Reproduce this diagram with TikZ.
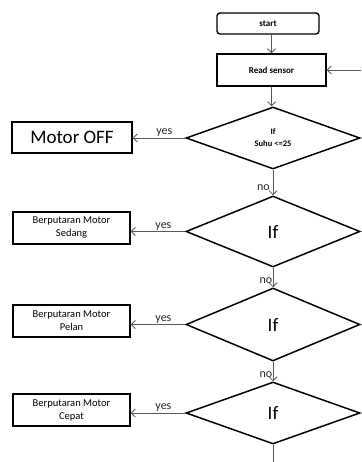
\documentclass[tikz,border=0pt]{standalone}
\usepackage{fontspec}
\setmainfont{Carlito}
\usetikzlibrary{shapes.geometric,arrows.meta}
\begin{document}
\begin{tikzpicture}[x=1pt,y=-1pt,
  box/.style={draw, line width=1.4pt, inner sep=0pt, align=center},
  smalltxt/.style={font=\fontsize{10.5}{13}\selectfont},
  dia/.style={diamond, draw, line width=1.5pt, inner sep=0pt, minimum width=174pt, align=center},
  arr/.style={draw=black!65, line width=0.7pt, -{Straight Barb[length=4pt,width=8pt,line width=0.8pt]}},
  plain/.style={draw=black!65, line width=0.7pt},
  lbl/.style={font=\fontsize{12}{14}\selectfont, inner sep=1pt, text=black!85}]
\useasboundingbox (0,0) rectangle (361,462);
% top nodes
\node[box, rounded corners=3pt, minimum width=102pt, minimum height=21pt, font=\bfseries\fontsize{9}{11}\selectfont] (start) at (268,23.5) {start};
\node[box, minimum width=109pt, minimum height=32pt, font=\bfseries\fontsize{9}{11}\selectfont] (read) at (271.5,70) {Read sensor};
\coordinate (inR) at (361,70);
% decisions
\node[dia, minimum height=62pt, font=\bfseries\fontsize{8.5}{12}\selectfont] (d1) at (273,138) {If\\Suhu <=25};
\node[dia, minimum height=71pt, font=\fontsize{19}{22}\selectfont] (d2) at (273,231.5) {If};
\node[dia, minimum height=73pt, font=\fontsize{19}{22}\selectfont] (d3) at (273,324.5) {If};
\node[dia, minimum height=62pt, font=\fontsize{19}{22}\selectfont] (d4) at (273,413) {If};
\coordinate (bot) at (273,462);
% action boxes
\node[box, minimum width=120pt, minimum height=31pt, font=\fontsize{19}{22}\selectfont] (off) at (72,137.5) {Motor OFF};
\node[box, smalltxt, minimum width=117pt, minimum height=32pt] (b2) at (71.5,228) {Berputaran Motor\\Sedang};
\node[box, smalltxt, minimum width=117pt, minimum height=32pt] (b3) at (71.5,321) {Berputaran Motor\\Pelan};
\node[box, smalltxt, minimum width=117pt, minimum height=32pt] (b4) at (71.5,410) {Berputaran Motor\\Cepat};
% connectors
\draw[arr] (read.north |- start.south) -- (read.north);
\draw[arr] (inR) -- (read.east);
\draw[arr] (read.south) -- (read.south |- d1.north);
\draw[arr] (d1.west) -- node[lbl, above, pos=0.4] {yes} (d1.west -| off.east);
\draw[arr] (d1.south) -- node[lbl, left, pos=0.7, xshift=-2pt] {no} (d2.north);
\draw[arr] (d2.west) -- node[lbl, above, pos=0.4] {yes} (d2.west -| b2.east);
\draw[arr] (d2.south) -- node[lbl, left, pos=0.65, inner sep=0.5pt] {no} (d3.north);
\draw[arr] (d3.west) -- node[lbl, above, pos=0.4] {yes} (d3.west -| b3.east);
\draw[arr] (d3.south) -- node[lbl, left, pos=0.65, inner sep=0.5pt] {no} (d4.north);
\draw[arr] (d4.west) -- node[lbl, above, pos=0.4] {yes} (d4.west -| b4.east);
\draw[plain] (d4.south) -- (bot);
\end{tikzpicture}
\end{document}
